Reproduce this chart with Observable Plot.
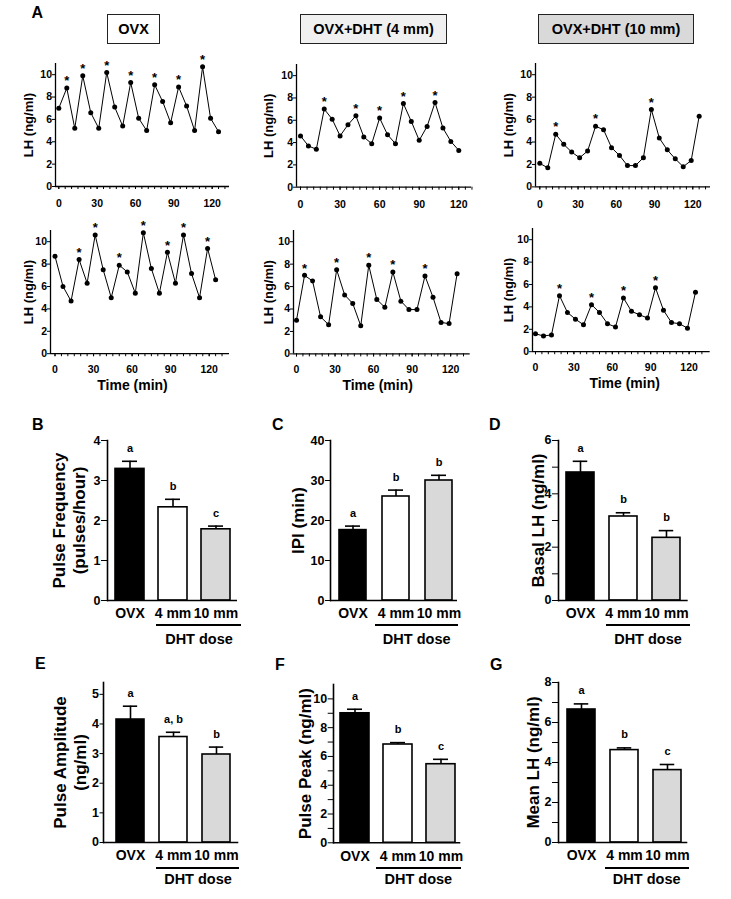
<!DOCTYPE html>
<html><head><meta charset="utf-8">
<script src="https://cdn.jsdelivr.net/npm/d3@7"></script>
<script src="https://cdn.jsdelivr.net/npm/@observablehq/plot@0.6"></script>
<style>
html,body{margin:0;padding:0;background:#fff;}
#root{position:relative;width:731px;height:899px;overflow:hidden;background:#fff;font-family:"Liberation Sans",Arial,sans-serif;font-weight:bold;color:#000;}
.box{position:absolute;border:1.5px solid #222;box-sizing:border-box;display:flex;align-items:center;justify-content:center;font-size:14.5px;}
.letter{position:absolute;font-size:16px;line-height:1;}
.dose{position:absolute;font-size:14.5px;line-height:16px;width:100px;text-align:center;}
.uline{position:absolute;height:2px;background:#000;}
</style></head><body><div id="root"></div><script>
// ---------- data ----------
const timeA = [0, 6.25, 12.5, 18.75, 25, 31.25, 37.5, 43.75, 50, 56.25, 62.5, 68.75, 75, 81.25, 87.5, 93.75, 100, 106.25, 112.5, 118.75, 125];
const timeB = [0, 6, 12, 18, 24, 30, 36, 42, 48, 54, 60, 66, 72, 78, 84, 90, 96, 102, 108, 114, 120];

const lhOvx1   = [7.0, 8.8, 5.2, 9.9, 6.6, 5.2, 10.2, 7.1, 5.4, 9.3, 6.1, 5.0, 9.1, 7.6, 5.7, 8.9, 7.2, 5.0, 10.7, 6.1, 4.9];
const starOvx1 = [1, 3, 6, 9, 12, 15, 18];
const lhDht4a   = [4.6, 3.7, 3.4, 7.0, 6.1, 4.6, 5.6, 6.4, 4.5, 3.9, 6.2, 4.7, 3.9, 7.5, 5.9, 4.2, 5.45, 7.6, 5.3, 4.1, 3.3];
const starDht4a = [3, 7, 10, 13, 17];
const lhDht10a   = [2.1, 1.7, 4.7, 3.8, 3.1, 2.6, 3.2, 5.4, 5.1, 3.5, 2.8, 1.9, 1.9, 2.6, 6.9, 4.35, 3.3, 2.5, 1.8, 2.35, 6.3];
const starDht10a = [2, 7, 14];
const lhOvx2   = [8.7, 6.0, 4.7, 8.4, 6.3, 10.6, 7.5, 5.0, 7.9, 7.3, 5.4, 10.8, 7.6, 5.4, 9.05, 6.3, 10.6, 7.15, 5.0, 9.4, 6.6];
const starOvx2 = [3, 5, 8, 11, 14, 16, 19];
const lhDht4b   = [3.0, 7.0, 6.5, 3.3, 2.6, 7.5, 5.25, 4.5, 2.5, 7.9, 4.85, 4.15, 7.3, 4.7, 3.95, 3.95, 6.95, 5.05, 2.8, 2.7, 7.15];
const starDht4b = [1, 5, 9, 12, 16];
const lhDht10b   = [1.6, 1.4, 1.5, 5.0, 3.5, 2.9, 2.4, 4.2, 3.5, 2.5, 2.2, 4.8, 3.6, 3.3, 3.0, 5.7, 3.7, 2.6, 2.5, 2.1, 5.3];
const starDht10b = [3, 7, 11, 15];

const lhTicks = [0, 2, 4, 6, 8, 10];
const timeTickLabels = [0, 30, 60, 90, 120];
const timeMinorTicks = [0, 5, 10, 15, 20, 25, 30, 35, 40, 45, 50, 55, 60, 65, 70, 75, 80, 85, 90, 95, 100, 105, 110, 115, 120, 125, 130];

const groups = ["OVX", "4 mm", "10 mm"];
const barColors = ["#000000", "#ffffff", "#d9d9d9"];

const freqMean = [3.29, 2.33, 1.78];   const freqSem = [0.19, 0.20, 0.08];   const freqLetters = ["a", "b", "c"];
const ipiMean  = [17.6, 26.0, 30.0];   const ipiSem  = [1.0, 1.6, 1.3];      const ipiLetters  = ["a", "b", "b"];
const basalMean = [4.8, 3.15, 2.35];   const basalSem = [0.42, 0.14, 0.27];  const basalLetters = ["a", "b", "b"];
const ampMean  = [4.15, 3.56, 2.97];   const ampSem  = [0.45, 0.16, 0.25];   const ampLetters  = ["a", "a, b", "b"];
const peakMean = [9.0, 6.83, 5.46];    const peakSem = [0.28, 0.13, 0.34];   const peakLetters = ["a", "b", "c"];
const meanLhMean = [6.65, 4.62, 3.62]; const meanLhSem = [0.28, 0.11, 0.28]; const meanLhLetters = ["a", "b", "c"];

// ---------- helpers ----------
const FONT = '"Liberation Sans", Arial, sans-serif';
const root = document.getElementById("root");
const intFmt = d => String(d);
function place(svg, left, top) {
  svg.style.position = "absolute";
  svg.style.left = left + "px";
  svg.style.top = top + "px";
  svg.style.background = "transparent";
  svg.style.overflow = "visible";
  svg.style.maxWidth = "none";
  root.appendChild(svg);
}

function linePanel(c) {
  const mL = 45, mR = 8, mT = 15, mB = c.timeLabel ? 45 : 28;
  const xDomain = [(c.axisL - c.t0) / c.ppm, (c.axisR - c.t0) / c.ppm];
  const data = c.times.map((t, i) => ({t, v: c.values[i], star: c.stars.includes(i)}));
  const svg = Plot.plot({
    width: c.axisR - c.axisL + mL + mR,
    height: c.bottom - c.top + mT + mB,
    marginLeft: mL, marginRight: mR, marginTop: mT, marginBottom: mB,
    style: {fontFamily: FONT, fontWeight: "bold", fontSize: "10.5px", background: "transparent", color: "#000"},
    x: {domain: xDomain},
    y: {domain: [0, 11]},
    marks: [
      Plot.axisY({ticks: lhTicks, tickSize: 3, tickPadding: 0.5, label: null, fontSize: 10.5, tickFormat: intFmt}),
      Plot.axisX({ticks: timeMinorTicks, tickSize: 3, tickFormat: () => "", label: null}),
      Plot.axisX({ticks: timeTickLabels, tickSize: 3, tickPadding: c.xPad, label: null, fontSize: 10.5, tickFormat: intFmt}),
      Plot.ruleX([xDomain[0]], {stroke: "#000", strokeWidth: 1.3}),
      Plot.ruleY([0], {stroke: "#000", strokeWidth: 1.3}),
      Plot.line(data, {x: "t", y: "v", stroke: "#000", strokeWidth: 1}),
      Plot.dot(data, {x: "t", y: "v", r: 2.5, fill: "#000", stroke: null}),
      Plot.text(data.filter(d => d.star), {x: "t", y: "v", text: () => "*", dy: -7, fontSize: 13, lineAnchor: "middle"}),
      Plot.text(["LH (ng/ml)"], {frameAnchor: "left", rotate: -90, dx: c.labelDx, fontSize: 13, lineAnchor: "middle", textAnchor: "middle"}),
      c.timeLabel ? Plot.text(["Time (min)"], {frameAnchor: "bottom", dy: 32, dx: c.timeDx, fontSize: 14, lineAnchor: "middle"}) : null
    ]
  });
  place(svg, c.axisL - mL, c.top - mT);
}

function barPanel(c) {
  const mL = 75, mR = 10, mT = 25, mB = 32;
  const svgLeft = c.axisL - mL;
  const s = (c.centers[2] - c.centers[0]) / 2;
  const pi = 1 - c.barW / s;
  const data = groups.map((g, i) => ({g, m: c.means[i], e: c.means[i] + c.sems[i], l: c.letters[i]}));
  const svg = Plot.plot({
    width: c.axisR - c.axisL + mL + mR,
    height: c.bottom - c.top + mT + mB,
    marginLeft: mL, marginRight: mR, marginTop: mT, marginBottom: mB,
    style: {fontFamily: FONT, fontWeight: "bold", fontSize: "12px", background: "transparent", color: "#000"},
    x: {type: "band", domain: groups, range: [c.centers[0] - s / 2 - svgLeft, c.centers[2] + s / 2 - svgLeft], paddingInner: pi, paddingOuter: pi / 2},
    y: {domain: c.yDomain},
    color: {domain: groups, range: barColors},
    marks: [
      Plot.axisY({ticks: c.yTicks, tickSize: c.tickSize, tickPadding: 1, label: null, fontSize: 12.5, tickFormat: intFmt}),
      c.yMinor ? Plot.axisY({ticks: c.yMinor, tickSize: c.tickSize, tickFormat: () => "", label: null}) : null,
      Plot.axisX({tickSize: 0, tickPadding: 8, label: null, fontSize: 14}),
      Plot.barY(data, {x: "g", y: "m", fill: "g", stroke: "#000", strokeWidth: 1.6}),
      Plot.ruleX(data, {x: "g", y1: "m", y2: "e", stroke: "#000", strokeWidth: 1.6}),
      Plot.tickY(data, {x: "g", y: "e", stroke: "#000", strokeWidth: 1.6, inset: (c.barW - 15) / 2}),
      Plot.frame({anchor: "left", stroke: "#000", strokeWidth: 1.6}),
      Plot.ruleY([0], {stroke: "#000", strokeWidth: 1.6}),
      Plot.text(data, {x: "g", y: "e", text: "l", dy: -13, fontSize: 11, lineAnchor: "middle"}),
      Plot.text([c.label], {frameAnchor: "left", rotate: -90, dx: c.labelDx, fontSize: 17, lineHeight: 1.2, lineAnchor: "middle", textAnchor: "middle"})
    ]
  });
  place(svg, svgLeft, c.top - mT);
}

// ---------- panel A ----------
linePanel({times: timeA, values: lhOvx1, stars: starOvx1, axisL: 55, axisR: 229, top: 63, bottom: 186, t0: 58.3, ppm: 1.278, labelDx: -27, xPad: 10.5});
linePanel({times: timeB, values: lhDht4a, stars: starDht4a, axisL: 296, axisR: 471, top: 64, bottom: 186.7, t0: 300, ppm: 1.319, labelDx: -28, xPad: 10.5});
linePanel({times: timeA, values: lhDht10a, stars: starDht10a, axisL: 535, axisR: 710, top: 63.3, bottom: 186.7, t0: 539.3, ppm: 1.275, labelDx: -27, xPad: 10.5});
linePanel({times: timeA, values: lhOvx2, stars: starOvx2, axisL: 50, axisR: 229, top: 229.8, bottom: 353, t0: 54.5, ppm: 1.285, labelDx: -22, xPad: 8.5, timeLabel: true, timeDx: -7.5});
linePanel({times: timeA, values: lhDht4b, stars: starDht4b, axisL: 293.3, axisR: 470, top: 229.8, bottom: 353.2, t0: 296.3, ppm: 1.285, labelDx: -25, xPad: 8.5, timeLabel: true, timeDx: -4.2});
linePanel({times: timeA, values: lhDht10b, stars: starDht10b, axisL: 532.3, axisR: 710, top: 228, bottom: 351.2, t0: 535.3, ppm: 1.28, labelDx: -24, xPad: 8.5, timeLabel: true, timeDx: 3.3});

// ---------- panels B-G ----------
barPanel({means: freqMean, sems: freqSem, letters: freqLetters, yDomain: [0, 4], yTicks: [0, 1, 2, 3, 4], tickSize: 6, axisL: 107, axisR: 237, top: 440, bottom: 600, centers: [129.5, 172.5, 216], barW: 29, label: "Pulse Frequency\n(pulses/hour)", labelDx: -39});
barPanel({means: ipiMean, sems: ipiSem, letters: ipiLetters, yDomain: [0, 40], yTicks: [0, 10, 20, 30, 40], tickSize: 5, axisL: 330, axisR: 457, top: 440, bottom: 600, centers: [352.7, 396, 438.7], barW: 27, label: "IPI (min)", labelDx: -33});
barPanel({means: basalMean, sems: basalSem, letters: basalLetters, yDomain: [0, 6], yTicks: [0, 2, 4, 6], yMinor: [1, 3, 5], tickSize: 6, axisL: 558.3, axisR: 688, top: 440, bottom: 600, centers: [580.5, 623.5, 666.7], barW: 28.5, label: "Basal LH (ng/ml)", labelDx: -21.3});
barPanel({means: ampMean, sems: ampSem, letters: ampLetters, yDomain: [0, 5.4], yTicks: [0, 1, 2, 3, 4, 5], tickSize: 3.5, axisL: 102.7, axisR: 238, top: 681.7, bottom: 841.7, centers: [130, 173.3, 216.7], barW: 28.7, label: "Pulse Amplitude\n(ng/ml)", labelDx: -34});
barPanel({means: peakMean, sems: peakSem, letters: peakLetters, yDomain: [0, 11], yTicks: [0, 2, 4, 6, 8, 10], yMinor: [1, 3, 5, 7, 9], tickSize: 5.3, axisL: 332.7, axisR: 460, top: 684, bottom: 842.3, centers: [353.7, 396.7, 440], barW: 29, label: "Pulse Peak (ng/ml)", labelDx: -28.7});
barPanel({means: meanLhMean, sems: meanLhSem, letters: meanLhLetters, yDomain: [0, 8], yTicks: [0, 2, 4, 6, 8], yMinor: [1, 3, 5, 7], tickSize: 6, axisL: 557.7, axisR: 687, top: 682.3, bottom: 842.3, centers: [580.3, 623.5, 666.7], barW: 28.5, label: "Mean LH (ng/ml)", labelDx: -26.2});

// ---------- annotations ----------
function addDiv(cls, style, text) {
  const d = document.createElement("div");
  d.className = cls;
  Object.assign(d.style, style);
  if (text != null) d.textContent = text;
  root.appendChild(d);
}
addDiv("box", {left: "107px", top: "14px", width: "53px", height: "30px", background: "#ffffff"}, "OVX");
addDiv("box", {left: "300px", top: "14px", width: "147px", height: "30px", background: "#f0f0f0"}, "OVX+DHT (4 mm)");
addDiv("box", {left: "538px", top: "14px", width: "156px", height: "30px", background: "#d9d9d9"}, "OVX+DHT (10 mm)");

[["A", 31.5, 4.7], ["B", 32, 417], ["C", 272, 417], ["D", 489, 417], ["E", 35, 656], ["F", 275, 657], ["G", 490, 657]]
  .forEach(([t, x, y]) => addDiv("letter", {left: x + "px", top: y + "px"}, t));

[[156, 241, 624, 199, 639], [375, 458, 624, 416.7, 639], [606, 690, 624, 648, 639],
 [156, 239, 866.5, 198, 879], [376, 460.7, 866.5, 418.3, 879], [605, 689.3, 866.5, 646.7, 879]]
  .forEach(([x1, x2, y, cx, cy]) => {
    addDiv("uline", {left: x1 + "px", top: y + "px", width: (x2 - x1) + "px"});
    addDiv("dose", {left: (cx - 50) + "px", top: (cy - 8) + "px"}, "DHT dose");
  });
</script></body></html>
